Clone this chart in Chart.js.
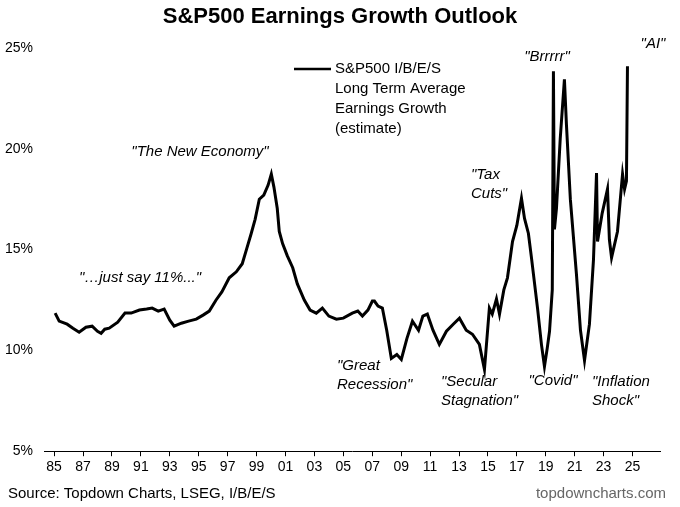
<!DOCTYPE html>
<html><head><meta charset="utf-8">
<script src="https://cdn.jsdelivr.net/npm/chart.js@4"></script>
<style>html,body{margin:0;padding:0;background:#fff}#w{width:680px;height:507px}</style>
</head><body><div id="w"><canvas id="c"></canvas></div>
<script>
const years = [1985.07,1985.35,1985.9,1986.3,1986.73,1987.2,1987.63,1988.0,1988.25,1988.5,1988.81,1989.4,1989.9,1990.33,1990.9,1991.4,1991.78,1992.2,1992.61,1993.0,1993.3,1993.8,1994.3,1994.83,1995.3,1995.73,1996.2,1996.6,1997.11,1997.6,1998.01,1998.3,1998.63,1998.9,1999.19,1999.5,1999.8,2000.02,2000.2,2000.43,2000.57,2000.8,2001.12,2001.5,2001.82,2002.3,2002.7,2003.13,2003.55,2004.0,2004.52,2005.0,2005.62,2006.0,2006.32,2006.7,2007.01,2007.15,2007.4,2007.7,2008.0,2008.32,2008.7,2009.01,2009.4,2009.78,2010.2,2010.5,2010.81,2011.2,2011.64,2012.13,2012.6,2013.03,2013.5,2013.93,2014.41,2014.76,2015.1,2015.3,2015.59,2015.8,2016.1,2016.35,2016.7,2017.0,2017.32,2017.53,2017.8,2018.01,2018.43,2018.7,2018.91,2019.1,2019.26,2019.45,2019.53,2019.6,2019.74,2020.0,2020.29,2020.43,2020.7,2021.12,2021.4,2021.68,2022.02,2022.3,2022.51,2022.58,2022.9,2023.27,2023.4,2023.55,2023.96,2024.31,2024.45,2024.58,2024.65];
const growth = [11.85,11.45,11.3,11.1,10.9,11.15,11.2,10.95,10.85,11.05,11.1,11.4,11.85,11.85,12.0,12.05,12.1,11.95,12.05,11.5,11.2,11.35,11.45,11.55,11.75,11.95,12.5,12.9,13.6,13.9,14.3,15.0,15.8,16.5,17.5,17.7,18.2,18.75,18.1,17.05,15.9,15.3,14.7,14.1,13.3,12.5,12.0,11.85,12.1,11.7,11.55,11.6,11.85,11.95,11.7,12.0,12.45,12.45,12.2,12.1,11.0,9.6,9.8,9.55,10.6,11.45,11.0,11.7,11.8,11.0,10.3,10.95,11.3,11.6,11.0,10.8,10.3,9.05,12.1,11.8,12.55,11.8,13.0,13.6,15.4,16.2,17.55,16.55,15.8,14.6,12.1,10.3,9.2,10.1,10.95,13.0,23.85,16.0,17.05,20.5,23.45,21.2,17.5,13.8,11.0,9.5,11.3,14.5,18.8,15.4,16.8,18.0,15.5,14.6,15.9,18.75,18.0,18.4,24.1];
const xTicks = [1985,1987,1989,1991,1993,1995,1997,1999,2001,2003,2005,2007,2009,2011,2013,2015,2017,2019,2021,2023,2025];
const yTicks = [5,10,15,20,25];
const legendLines = ["S&P500 I/B/E/S","Long Term Average","Earnings Growth","(estimate)"];
const notes = [
 {t:['"The New Economy"'],x:200,y:152,a:'center'},
 {t:['"…just say 11%..."'],x:140,y:278,a:'center'},
 {t:['"Great','Recession"'],x:337,y:366,a:'left'},
 {t:['"Secular','Stagnation"'],x:441,y:382,a:'left'},
 {t:['"Tax','Cuts"'],x:471,y:175,a:'left'},
 {t:['"Brrrrr"'],x:547,y:57,a:'center'},
 {t:['"Covid"'],x:553,y:381,a:'center'},
 {t:['"Inflation','Shock"'],x:592,y:382,a:'left'},
 {t:['"AI"'],x:653,y:44,a:'center'}
];
const F = '"Liberation Sans", Arial, sans-serif';
const deco = {id:'deco', afterDraw(ch){
 const c=ch.ctx; c.save(); c.fillStyle='#000'; c.textBaseline='middle';
 c.font='bold 22px '+F; c.textAlign='center'; c.fillText('S&P500 Earnings Growth Outlook',340,17);
 c.font='italic 15px '+F;
 notes.forEach(n=>{c.textAlign=n.a; n.t.forEach((s,i)=>c.fillText(s,n.x,n.y+i*19));});
 c.lineWidth=2.5; c.beginPath(); c.moveTo(294,69); c.lineTo(331,69); c.stroke();
 c.font='15px '+F; c.textAlign='left';
 legendLines.forEach((s,i)=>c.fillText(s,335,69+i*20));
 c.fillText('Source: Topdown Charts, LSEG, I/B/E/S',8,494);
 c.fillStyle='#666'; c.textAlign='right'; c.fillText('topdowncharts.com',666,494);
 c.restore();
}};
new Chart(document.getElementById('c'),{
 type:'line',
 data:{datasets:[{data:years.map((y,i)=>({x:y,y:growth[i]})),borderColor:'#000',borderWidth:3,pointRadius:0,tension:0}]},
 options:{responsive:true,maintainAspectRatio:false,animation:false,
  layout:{padding:{top:48,left:4,right:20,bottom:28}},
  plugins:{legend:{display:false},tooltip:{enabled:false}},
  scales:{
   x:{type:'linear',min:1984.3,max:2026.9,
      afterBuildTicks:a=>{a.ticks=xTicks.map(v=>({value:v}));},
      ticks:{autoSkip:false,maxRotation:0,color:'#000',font:{size:14,family:F},callback:v=>String(v%100).padStart(2,'0')},
      grid:{display:true,drawOnChartArea:false,tickLength:5,color:'#000'},border:{color:'#000'}},
   y:{min:5,max:25,afterBuildTicks:a=>{a.ticks=yTicks.map(v=>({value:v}));},
      afterFit:a=>{a.width=40;},
      ticks:{color:'#000',font:{size:14,family:F},callback:v=>v+'%'},
      grid:{display:false},border:{display:false}}
  }},
 plugins:[deco]
});
</script></body></html>
